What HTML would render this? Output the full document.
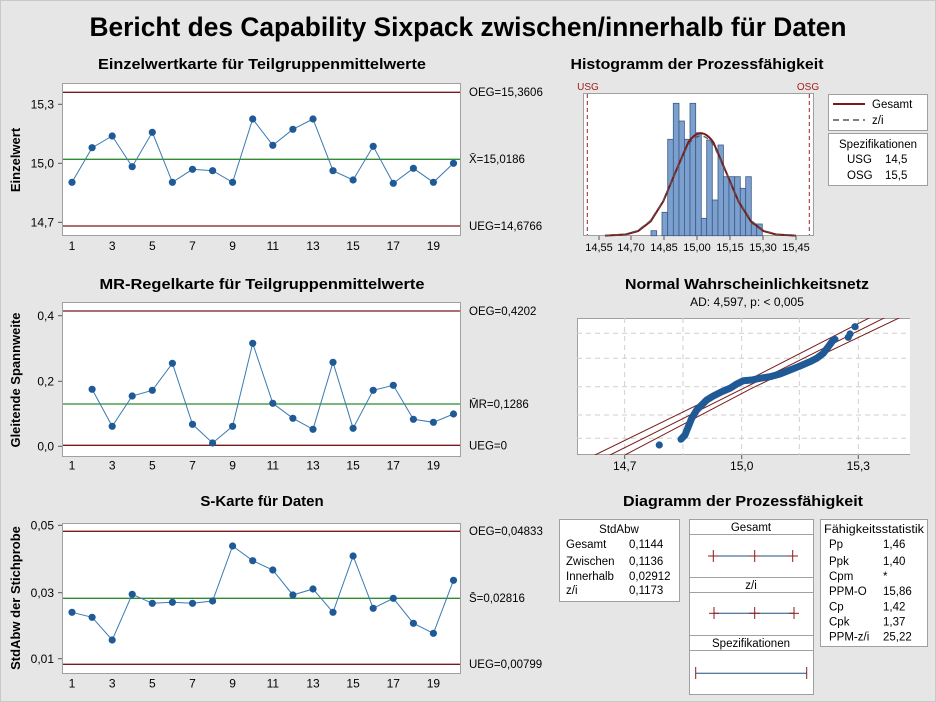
<!DOCTYPE html>
<html><head><meta charset="utf-8"><style>
html,body{margin:0;padding:0;background:#e6e6e6;}
svg{display:block;font-family:"Liberation Sans",sans-serif;}
</style></head><body>
<svg width="936" height="702" viewBox="0 0 936 702" xmlns="http://www.w3.org/2000/svg">
<rect x="0" y="0" width="936" height="702" fill="#e6e6e6"/>
<rect x="0.5" y="0.5" width="935" height="701" fill="none" stroke="#c8c8c8"/>
<text x="468" y="36" text-anchor="middle" font-size="27" font-weight="bold" textLength="757" lengthAdjust="spacingAndGlyphs">Bericht des Capability Sixpack zwischen/innerhalb für Daten</text>

<!-- Chart 1 -->
<text x="262" y="69" text-anchor="middle" font-size="15" font-weight="bold" textLength="328" lengthAdjust="spacingAndGlyphs">Einzelwertkarte für Teilgruppenmittelwerte</text>
<rect x="62.5" y="83.5" width="398" height="152" fill="#fff" stroke="#a0a0a0"/>
<line x1="63" y1="92.3" x2="460" y2="92.3" stroke="#7b1a1a" stroke-width="1.3"/>
<line x1="63" y1="159.3" x2="460" y2="159.3" stroke="#2e8b2e" stroke-width="1.3"/>
<line x1="63" y1="226" x2="460" y2="226" stroke="#7b1a1a" stroke-width="1.3"/>
<g font-size="12" text-anchor="end">
<text x="54" y="108.5">15,3</text><text x="54" y="167.5">15,0</text><text x="54" y="226.5">14,7</text>
</g>
<g stroke="#555"><line x1="58" y1="104.3" x2="62" y2="104.3"/><line x1="58" y1="163.3" x2="62" y2="163.3"/><line x1="58" y1="222.3" x2="62" y2="222.3"/></g>
<text transform="translate(20,160) rotate(-90)" text-anchor="middle" font-size="13" font-weight="bold">Einzelwert</text>
<polyline fill="none" stroke="#3a7ab0" stroke-width="1" points="72,182.3 92.1,147.7 112.2,136 132.2,166.7 152.3,132.3 172.4,182.3 192.5,169.3 212.6,170.7 232.6,182.3 252.7,119 272.8,145.3 292.9,129.3 313,119 333,170.7 353.1,180 373.2,146.3 393.3,183.3 413.4,168.3 433.4,182.3 453.5,163.3"/>
<g fill="#1f5a96">
<circle cx="72" cy="182.3" r="3.6"/><circle cx="92.1" cy="147.7" r="3.6"/><circle cx="112.2" cy="136" r="3.6"/><circle cx="132.2" cy="166.7" r="3.6"/><circle cx="152.3" cy="132.3" r="3.6"/><circle cx="172.4" cy="182.3" r="3.6"/><circle cx="192.5" cy="169.3" r="3.6"/><circle cx="212.6" cy="170.7" r="3.6"/><circle cx="232.6" cy="182.3" r="3.6"/><circle cx="252.7" cy="119" r="3.6"/><circle cx="272.8" cy="145.3" r="3.6"/><circle cx="292.9" cy="129.3" r="3.6"/><circle cx="313" cy="119" r="3.6"/><circle cx="333" cy="170.7" r="3.6"/><circle cx="353.1" cy="180" r="3.6"/><circle cx="373.2" cy="146.3" r="3.6"/><circle cx="393.3" cy="183.3" r="3.6"/><circle cx="413.4" cy="168.3" r="3.6"/><circle cx="433.4" cy="182.3" r="3.6"/><circle cx="453.5" cy="163.3" r="3.6"/>
</g>
<g font-size="12" text-anchor="middle">
<text x="72" y="250">1</text><text x="112.2" y="250">3</text><text x="152.3" y="250">5</text><text x="192.5" y="250">7</text><text x="232.6" y="250">9</text><text x="272.8" y="250">11</text><text x="313" y="250">13</text><text x="353.1" y="250">15</text><text x="393.3" y="250">17</text><text x="433.4" y="250">19</text>
</g>
<g font-size="11.5"><text x="469" y="96">OEG=15,3606</text><text x="469" y="163">X̄=15,0186</text><text x="469" y="230">UEG=14,6766</text></g>

<!-- Chart 2 -->
<text x="262" y="289" text-anchor="middle" font-size="15" font-weight="bold" textLength="325" lengthAdjust="spacingAndGlyphs">MR-Regelkarte für Teilgruppenmittelwerte</text>
<rect x="62.5" y="302.5" width="398" height="154" fill="#fff" stroke="#a0a0a0"/>
<line x1="63" y1="311" x2="460" y2="311" stroke="#7b1a1a" stroke-width="1.3"/>
<line x1="63" y1="404" x2="460" y2="404" stroke="#2e8b2e" stroke-width="1.3"/>
<line x1="63" y1="445.3" x2="460" y2="445.3" stroke="#7b1a1a" stroke-width="1.3"/>
<g font-size="12" text-anchor="end"><text x="54" y="320">0,4</text><text x="54" y="385.5">0,2</text><text x="54" y="450.5">0,0</text></g>
<g stroke="#555"><line x1="58" y1="315.7" x2="62" y2="315.7"/><line x1="58" y1="381.3" x2="62" y2="381.3"/><line x1="58" y1="446.3" x2="62" y2="446.3"/></g>
<text transform="translate(20,380) rotate(-90)" text-anchor="middle" font-size="13" font-weight="bold">Gleitende Spannweite</text>
<polyline fill="none" stroke="#3a7ab0" stroke-width="1" points="92.1,389.3 112.2,426.3 132.2,396 152.3,390.3 172.4,363.3 192.5,424.3 212.6,443 232.6,426.3 252.7,343.3 272.8,403.3 292.9,418.3 313,429.3 333,362.3 353.1,428.3 373.2,390.3 393.3,385.3 413.4,419.3 433.4,422.3 453.5,414"/>
<g fill="#1f5a96">
<circle cx="92.1" cy="389.3" r="3.6"/><circle cx="112.2" cy="426.3" r="3.6"/><circle cx="132.2" cy="396" r="3.6"/><circle cx="152.3" cy="390.3" r="3.6"/><circle cx="172.4" cy="363.3" r="3.6"/><circle cx="192.5" cy="424.3" r="3.6"/><circle cx="212.6" cy="443" r="3.6"/><circle cx="232.6" cy="426.3" r="3.6"/><circle cx="252.7" cy="343.3" r="3.6"/><circle cx="272.8" cy="403.3" r="3.6"/><circle cx="292.9" cy="418.3" r="3.6"/><circle cx="313" cy="429.3" r="3.6"/><circle cx="333" cy="362.3" r="3.6"/><circle cx="353.1" cy="428.3" r="3.6"/><circle cx="373.2" cy="390.3" r="3.6"/><circle cx="393.3" cy="385.3" r="3.6"/><circle cx="413.4" cy="419.3" r="3.6"/><circle cx="433.4" cy="422.3" r="3.6"/><circle cx="453.5" cy="414" r="3.6"/>
</g>
<g font-size="12" text-anchor="middle">
<text x="72" y="469.5">1</text><text x="112.2" y="469.5">3</text><text x="152.3" y="469.5">5</text><text x="192.5" y="469.5">7</text><text x="232.6" y="469.5">9</text><text x="272.8" y="469.5">11</text><text x="313" y="469.5">13</text><text x="353.1" y="469.5">15</text><text x="393.3" y="469.5">17</text><text x="433.4" y="469.5">19</text>
</g>
<g font-size="11.5"><text x="469" y="315">OEG=0,4202</text><text x="469" y="408">M̄R=0,1286</text><text x="469" y="449.5">UEG=0</text></g>

<!-- Chart 3 -->
<text x="262" y="506" text-anchor="middle" font-size="15" font-weight="bold">S-Karte für Daten</text>
<rect x="62.5" y="523.5" width="398" height="150" fill="#fff" stroke="#a0a0a0"/>
<line x1="63" y1="531.3" x2="460" y2="531.3" stroke="#7b1a1a" stroke-width="1.3"/>
<line x1="63" y1="598.3" x2="460" y2="598.3" stroke="#2e8b2e" stroke-width="1.3"/>
<line x1="63" y1="664.3" x2="460" y2="664.3" stroke="#7b1a1a" stroke-width="1.3"/>
<g font-size="12" text-anchor="end"><text x="54" y="529.5">0,05</text><text x="54" y="597">0,03</text><text x="54" y="663">0,01</text></g>
<g stroke="#555"><line x1="58" y1="525.3" x2="62" y2="525.3"/><line x1="58" y1="592.7" x2="62" y2="592.7"/><line x1="58" y1="658.7" x2="62" y2="658.7"/></g>
<text transform="translate(20,598) rotate(-90)" text-anchor="middle" font-size="13" font-weight="bold">StdAbw der Stichprobe</text>
<polyline fill="none" stroke="#3a7ab0" stroke-width="1" points="72,612.3 92.1,617.3 112.2,640 132.2,594.3 152.3,603.3 172.4,602.3 192.5,603.3 212.6,601 232.6,546 252.7,560.7 272.8,570 292.9,595 313,589 333,612.3 353.1,556 373.2,608.3 393.3,598.3 413.4,623.3 433.4,633.3 453.5,580.3"/>
<g fill="#1f5a96">
<circle cx="72" cy="612.3" r="3.6"/><circle cx="92.1" cy="617.3" r="3.6"/><circle cx="112.2" cy="640" r="3.6"/><circle cx="132.2" cy="594.3" r="3.6"/><circle cx="152.3" cy="603.3" r="3.6"/><circle cx="172.4" cy="602.3" r="3.6"/><circle cx="192.5" cy="603.3" r="3.6"/><circle cx="212.6" cy="601" r="3.6"/><circle cx="232.6" cy="546" r="3.6"/><circle cx="252.7" cy="560.7" r="3.6"/><circle cx="272.8" cy="570" r="3.6"/><circle cx="292.9" cy="595" r="3.6"/><circle cx="313" cy="589" r="3.6"/><circle cx="333" cy="612.3" r="3.6"/><circle cx="353.1" cy="556" r="3.6"/><circle cx="373.2" cy="608.3" r="3.6"/><circle cx="393.3" cy="598.3" r="3.6"/><circle cx="413.4" cy="623.3" r="3.6"/><circle cx="433.4" cy="633.3" r="3.6"/><circle cx="453.5" cy="580.3" r="3.6"/>
</g>
<g font-size="12" text-anchor="middle">
<text x="72" y="687.5">1</text><text x="112.2" y="687.5">3</text><text x="152.3" y="687.5">5</text><text x="192.5" y="687.5">7</text><text x="232.6" y="687.5">9</text><text x="272.8" y="687.5">11</text><text x="313" y="687.5">13</text><text x="353.1" y="687.5">15</text><text x="393.3" y="687.5">17</text><text x="433.4" y="687.5">19</text>
</g>
<g font-size="11.5"><text x="469" y="535">OEG=0,04833</text><text x="469" y="602">S̄=0,02816</text><text x="469" y="668">UEG=0,00799</text></g>

<!-- Histogram -->
<text x="697" y="69" text-anchor="middle" font-size="15" font-weight="bold" textLength="253" lengthAdjust="spacingAndGlyphs">Histogramm der Prozessfähigkeit</text>
<rect x="583.5" y="93.5" width="230" height="142" fill="#fff" stroke="#a0a0a0"/>
<g fill="#7b9fcf" stroke="#3d5a80" stroke-width="0.8">
<rect x="651" y="230.7" width="5.7" height="5"/>
<rect x="662" y="212.3" width="5.7" height="23.4"/>
<rect x="667.7" y="139.3" width="5.7" height="96.4"/>
<rect x="673.3" y="103.3" width="5.7" height="132.4"/>
<rect x="679" y="121" width="5.4" height="114.7"/>
<rect x="684.4" y="139.3" width="5.6" height="96.4"/>
<rect x="690" y="103.3" width="5.7" height="132.4"/>
<rect x="695.7" y="132.7" width="5.6" height="103"/>
<rect x="701.3" y="218.3" width="5.4" height="17.4"/>
<rect x="706.7" y="140" width="5.6" height="95.7"/>
<rect x="712.3" y="200" width="5.7" height="35.7"/>
<rect x="718" y="145" width="5.4" height="90.7"/>
<rect x="723.4" y="176.7" width="5.6" height="59"/>
<rect x="729" y="176.7" width="5.7" height="59"/>
<rect x="734.7" y="176.7" width="5.6" height="59"/>
<rect x="740.3" y="188.3" width="5.4" height="47.4"/>
<rect x="745.7" y="176.7" width="5.6" height="59"/>
<rect x="751.3" y="224" width="5.4" height="11.7"/>
<rect x="756.7" y="224" width="5.6" height="11.7"/>
</g>
<path d="M605,235.6 L625.5,234.5 L638.1,231.1 L650.6,221.4 L663.2,201.4 L675.7,171.6 L688.3,142.4 Q700.8,124 713.4,142.4 L725.9,171.6 L738.5,201.4 L751,221.4 L763.6,231.1 L776.1,234.5 L796,235.6" fill="none" stroke="#7b1a1a" stroke-width="2"/>
<path d="M605,235.4 L625,234.2 L637.6,230.6 L650,221 L662.6,201.8 L675.2,173 L688,145 Q700.8,127 713.6,145 L726.4,173 L739,201.8 L751.6,221 L764,230.6 L776.6,234.2 L796,235.4" fill="none" stroke="#555" stroke-width="1.3" stroke-dasharray="5,4"/>
<line x1="587.3" y1="94" x2="587.3" y2="235" stroke="#a02020" stroke-dasharray="4,3"/>
<line x1="809.3" y1="94" x2="809.3" y2="235" stroke="#a02020" stroke-dasharray="4,3"/>
<g font-size="10" fill="#a02020" text-anchor="middle"><text x="588" y="90">USG</text><text x="808" y="90">OSG</text></g>
<g stroke="#555"><line x1="599" y1="236" x2="599" y2="240"/><line x1="631" y1="236" x2="631" y2="240"/><line x1="664" y1="236" x2="664" y2="240"/><line x1="697" y1="236" x2="697" y2="240"/><line x1="730" y1="236" x2="730" y2="240"/><line x1="763" y1="236" x2="763" y2="240"/><line x1="796" y1="236" x2="796" y2="240"/></g>
<g font-size="11" text-anchor="middle">
<text x="599" y="251">14,55</text><text x="631" y="251">14,70</text><text x="664" y="251">14,85</text><text x="697" y="251">15,00</text><text x="730" y="251">15,15</text><text x="763" y="251">15,30</text><text x="796" y="251">15,45</text>
</g>
<rect x="828.5" y="94.5" width="99" height="36" fill="#fff" stroke="#a0a0a0"/>
<line x1="833" y1="104" x2="865" y2="104" stroke="#7b1a1a" stroke-width="2"/>
<line x1="833" y1="120" x2="865" y2="120" stroke="#555" stroke-width="1.5" stroke-dasharray="6,4"/>
<g font-size="11.5"><text x="872" y="108">Gesamt</text><text x="872" y="124">z/i</text></g>
<rect x="828.5" y="133.5" width="99" height="52" fill="#fff" stroke="#a0a0a0"/>
<g font-size="11.5"><text x="878" y="148" text-anchor="middle">Spezifikationen</text><text x="847" y="163">USG</text><text x="885" y="163">14,5</text><text x="847" y="179">OSG</text><text x="885" y="179">15,5</text></g>

<!-- Normal probability -->
<text x="747" y="289" text-anchor="middle" font-size="15" font-weight="bold" textLength="244" lengthAdjust="spacingAndGlyphs">Normal Wahrscheinlichkeitsnetz</text>
<text x="747" y="306" text-anchor="middle" font-size="12">AD: 4,597, p: &lt; 0,005</text>
<svg x="577" y="318" width="333" height="137" viewBox="577 318 333 137">
<rect x="577.5" y="318.5" width="333" height="136" fill="#fff" stroke="#a0a0a0"/>
<g stroke="#cfcfcf" stroke-dasharray="5,4">
<line x1="624.7" y1="318" x2="624.7" y2="455"/><line x1="683" y1="318" x2="683" y2="455"/><line x1="741.7" y1="318" x2="741.7" y2="455"/><line x1="799.3" y1="318" x2="799.3" y2="455"/><line x1="858.3" y1="318" x2="858.3" y2="455"/>
<line x1="577" y1="333.3" x2="910" y2="333.3"/><line x1="577" y1="358.3" x2="910" y2="358.3"/><line x1="577" y1="386.7" x2="910" y2="386.7"/><line x1="577" y1="415" x2="910" y2="415"/><line x1="577" y1="438.3" x2="910" y2="438.3"/>
</g>
<g fill="none" stroke="#7b1a1a" stroke-width="1">
<line x1="610" y1="455" x2="886.7" y2="316.7"/>
<polyline points="595,455 745,381.7 871.7,316.7"/>
<polyline points="625,455 751.7,388.3 901.7,316.7"/>
</g>
<polyline fill="none" stroke="#1f5a96" stroke-width="7" stroke-linecap="round" stroke-linejoin="round" points="681,439.3 685,435 688.3,426.7 691.7,418.3 696.7,410 701.7,405 706.7,400 713.3,396 721.7,391.7 730,388.3 736.7,384 743.3,380.7 751.7,380 760,378.3 770,376.7 780,374 790,370 800,366 810,361.7 816.7,358.3 823.3,353.3 828.3,346.7 833.3,340 835,339.3"/>
<g fill="#1f5a96"><circle cx="659.3" cy="445" r="3.6"/><circle cx="848.3" cy="337.3" r="3.6"/><circle cx="850" cy="334" r="3.6"/><circle cx="855" cy="326.7" r="3.6"/></g>
</svg>
<g stroke="#555"><line x1="624.7" y1="455" x2="624.7" y2="459"/><line x1="741.7" y1="455" x2="741.7" y2="459"/><line x1="858.3" y1="455" x2="858.3" y2="459"/></g>
<g font-size="12" text-anchor="middle"><text x="624.7" y="470">14,7</text><text x="741.7" y="470">15,0</text><text x="858.3" y="470">15,3</text></g>

<!-- Capability plot -->
<text x="743" y="506" text-anchor="middle" font-size="15" font-weight="bold" textLength="240" lengthAdjust="spacingAndGlyphs">Diagramm der Prozessfähigkeit</text>
<rect x="559.5" y="519.5" width="120" height="82" fill="#fff" stroke="#a0a0a0"/>
<g font-size="11.5">
<text x="619" y="533" text-anchor="middle">StdAbw</text>
<text x="566" y="548">Gesamt</text><text x="629" y="548">0,1144</text>
<text x="566" y="565">Zwischen</text><text x="629" y="565">0,1136</text>
<text x="566" y="580">Innerhalb</text><text x="629" y="580">0,02912</text>
<text x="566" y="594">z/i</text><text x="629" y="594">0,1173</text>
</g>
<rect x="689.5" y="519.5" width="124" height="175" fill="#fff" stroke="#a0a0a0"/>
<g stroke="#a0a0a0"><line x1="689" y1="534.5" x2="813" y2="534.5"/><line x1="689" y1="577.5" x2="813" y2="577.5"/><line x1="689" y1="592.5" x2="813" y2="592.5"/><line x1="689" y1="635.5" x2="813" y2="635.5"/><line x1="689" y1="650.5" x2="813" y2="650.5"/></g>
<g font-size="11.5" text-anchor="middle"><text x="751" y="531">Gesamt</text><text x="751" y="589">z/i</text><text x="751" y="647">Spezifikationen</text></g>
<g stroke="#1f4f80" stroke-width="1"><line x1="713" y1="556" x2="793" y2="556"/><line x1="714" y1="613.3" x2="794" y2="613.3"/><line x1="695.7" y1="673.3" x2="806.7" y2="673.3"/></g>
<g stroke="#8b1a1a" stroke-width="1">
<line x1="713.3" y1="550" x2="713.3" y2="562"/><line x1="708" y1="556" x2="719" y2="556"/>
<line x1="754.7" y1="550" x2="754.7" y2="562"/><line x1="749" y1="556" x2="760" y2="556"/>
<line x1="792.7" y1="550" x2="792.7" y2="562"/><line x1="787" y1="556" x2="798" y2="556"/>
<line x1="714" y1="607" x2="714" y2="619"/><line x1="709" y1="613.3" x2="719" y2="613.3"/>
<line x1="754.7" y1="607" x2="754.7" y2="619"/><line x1="749" y1="613.3" x2="760" y2="613.3"/>
<line x1="794" y1="607" x2="794" y2="619"/><line x1="789" y1="613.3" x2="799" y2="613.3"/>
<line x1="695.7" y1="667" x2="695.7" y2="679"/><line x1="806.7" y1="667" x2="806.7" y2="679"/>
</g>
<rect x="820.5" y="519.5" width="107" height="127" fill="#fff" stroke="#a0a0a0"/>
<g font-size="11.5">
<text x="874" y="533" text-anchor="middle" textLength="100" lengthAdjust="spacingAndGlyphs">Fähigkeitsstatistik</text>
<text x="829" y="548">Pp</text><text x="883" y="548">1,46</text>
<text x="829" y="565">Ppk</text><text x="883" y="565">1,40</text>
<text x="829" y="580">Cpm</text><text x="883" y="580">*</text>
<text x="829" y="595">PPM-O</text><text x="883" y="595">15,86</text>
<text x="829" y="610.5">Cp</text><text x="883" y="610.5">1,42</text>
<text x="829" y="625.5">Cpk</text><text x="883" y="625.5">1,37</text>
<text x="829" y="640.5">PPM-z/i</text><text x="883" y="640.5">25,22</text>
</g>
</svg>
</body></html>
